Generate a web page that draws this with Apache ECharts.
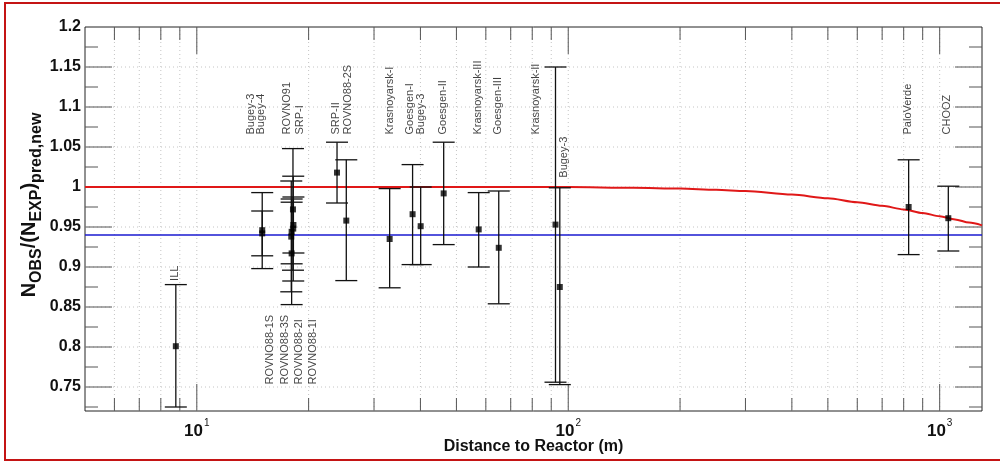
<!DOCTYPE html>
<html>
<head>
<meta charset="utf-8">
<script src="https://cdn.jsdelivr.net/npm/echarts@6/dist/echarts.min.js"></script>
<style>
  html, body { margin: 0; padding: 0; background: #fff; }
  #chart { width: 1000px; height: 462px; }
</style>
</head>
<body>
<div id="chart"></div>
<script>
// ---- measurements: baseline (m), observed/expected ratio and its error range ----
const experiment = ['ILL', 'Bugey-4', 'Bugey-3', 'ROVNO91', 'SRP-I', 'ROVNO88-1S', 'ROVNO88-3S',
  'ROVNO88-2I', 'ROVNO88-1I', 'SRP-II', 'ROVNO88-2S', 'Krasnoyarsk-I', 'Goesgen-I', 'Bugey-3',
  'Goesgen-II', 'Krasnoyarsk-III', 'Goesgen-III', 'Krasnoyarsk-II', 'Bugey-3', 'PaloVerde', 'CHOOZ'];
const distance = [8.78, 15.0, 15.0, 18.0, 18.2, 18.15, 18.18, 17.96, 18.0, 23.85, 25.26, 33.05,
  38.1, 40.06, 46.2, 57.4, 65.0, 92.4, 94.9, 825, 1055];
const ratio = [0.801, 0.942, 0.946, 0.944, 0.9525, 0.972, 0.948, 0.938, 0.917, 1.018, 0.958, 0.935,
  0.966, 0.951, 0.992, 0.947, 0.924, 0.953, 0.875, 0.975, 0.961];
const ratioLow = [0.725, 0.914, 0.898, 0.904, 0.9175, 0.896, 0.8825, 0.869, 0.853, 0.980, 0.883, 0.874,
  0.903, 0.903, 0.928, 0.900, 0.854, 0.756, 0.753, 0.9155, 0.920];
const ratioHigh = [0.878, 0.970, 0.993, 0.985, 0.9875, 1.048, 1.0135, 1.0075, 0.981, 1.056, 1.034, 0.998,
  1.028, 1.000, 1.056, 0.993, 0.995, 1.150, 0.999, 1.034, 1.001];

// ---- expected ratio including three-flavour oscillation (red) and the mean ratio (blue) ----
const curveDistance = [5, 100, 150, 200, 250, 300, 400, 500, 600, 700, 800, 900, 1000,
  1100, 1200, 1300];
const curveRatio = [1.000, 1.000, 0.999, 0.998, 0.9965, 0.995, 0.9905, 0.986, 0.981, 0.9765, 0.972,
  0.9675, 0.9635, 0.9595, 0.9555, 0.952];
const meanRatio = 0.94;

// ---- experiment name tags: text, baseline column (m) and ratio at the lower end of the text ----
const tagText = ['ILL', 'Bugey-3', 'Bugey-4', 'ROVNO91', 'SRP-I', 'ROVNO88-1S', 'ROVNO88-3S',
  'ROVNO88-2I', 'ROVNO88-1I', 'SRP-II', 'ROVNO88-2S', 'Krasnoyarsk-I', 'Goesgen-I', 'Bugey-3',
  'Goesgen-II', 'Krasnoyarsk-III', 'Goesgen-III', 'Krasnoyarsk-II', 'Bugey-3', 'PaloVerde', 'CHOOZ'];
const tagDistance = [8.78, 14.05, 14.96, 17.57, 18.96, 15.81, 17.28, 18.88, 20.6, 23.81, 25.59,
  33.27, 37.5, 40.32, 46.1, 57.3, 64.8, 82.3, 97.4, 823.6, 1049];
const tagRatio = [0.882, 1.065, 1.065, 1.065, 1.065, 0.7525, 0.7525, 0.7525, 0.7525, 1.065, 1.065,
  1.065, 1.065, 1.065, 1.065, 1.065, 1.065, 1.065, 1.011, 1.065, 1.065];

// ---- axes ----
const xRange = [5, 1300];
const yRange = [0.72, 1.2];
const xMajorTicks = [10, 100, 1000];
const xMinorTicks = [6, 7, 8, 9, 20, 30, 40, 50, 60, 70, 80, 90, 200, 300, 400, 500, 600, 700, 800, 900];
const yMajorTicks = [0.75, 0.8, 0.85, 0.9, 0.95, 1, 1.05, 1.1, 1.15];
const yMinorTicks = [0.725, 0.775, 0.825, 0.875, 0.925, 0.975, 1.025, 1.075, 1.125, 1.175];
const yTickLabels = [0.75, 0.8, 0.85, 0.9, 0.95, 1, 1.05, 1.1, 1.15, 1.2];

const BOLD_FONT = "'Liberation Sans', Arial, sans-serif";
const TAG_FONT = "'Liberation Sans', Arial, sans-serif";
const GRID_COLOR = '#c4c4c4';
const TICK_COLOR = '#555';

const chart = echarts.init(document.getElementById('chart'), null, { renderer: 'canvas' });

// vertical grid lines plus inward ticks on the bottom and top edges
function renderXTicks(params, api) {
  const v = api.value(0);
  const major = api.value(1) === 1;
  const bottom = api.coord([v, yRange[0]]);
  const top = api.coord([v, yRange[1]]);
  const len = major ? 27 : 13;
  return {
    type: 'group',
    children: [
      { type: 'line', shape: { x1: bottom[0], y1: bottom[1], x2: top[0], y2: top[1] },
        style: { stroke: GRID_COLOR, lineWidth: 1, lineDash: [1, 3] } },
      { type: 'line', shape: { x1: bottom[0], y1: bottom[1], x2: bottom[0], y2: bottom[1] - len },
        style: { stroke: TICK_COLOR, lineWidth: 1 } },
      { type: 'line', shape: { x1: top[0], y1: top[1], x2: top[0], y2: top[1] + len },
        style: { stroke: TICK_COLOR, lineWidth: 1 } }
    ]
  };
}

// horizontal grid lines plus inward ticks on the left and right edges
function renderYTicks(params, api) {
  const v = api.value(1);
  const major = api.value(2) === 1;
  const left = api.coord([xRange[0], v]);
  const right = api.coord([xRange[1], v]);
  const len = major ? 27 : 13;
  const children = [
    { type: 'line', shape: { x1: left[0], y1: left[1], x2: left[0] + len, y2: left[1] },
      style: { stroke: TICK_COLOR, lineWidth: 1 } },
    { type: 'line', shape: { x1: right[0], y1: right[1], x2: right[0] - len, y2: right[1] },
      style: { stroke: TICK_COLOR, lineWidth: 1 } }
  ];
  if (major) {
    children.unshift({ type: 'line', shape: { x1: left[0], y1: left[1], x2: right[0], y2: right[1] },
      style: { stroke: GRID_COLOR, lineWidth: 1, lineDash: [1, 3] } });
  }
  return { type: 'group', children };
}

// vertical error bar with caps
function renderErrorBar(params, api) {
  const x = api.value(0);
  const lo = api.coord([x, api.value(1)]);
  const hi = api.coord([x, api.value(2)]);
  const half = 11;
  const style = { stroke: '#111', lineWidth: 1.3 };
  return {
    type: 'group',
    children: [
      { type: 'line', shape: { x1: lo[0], y1: lo[1], x2: hi[0], y2: hi[1] }, style },
      { type: 'line', shape: { x1: lo[0] - half, y1: lo[1], x2: lo[0] + half, y2: lo[1] }, style },
      { type: 'line', shape: { x1: hi[0] - half, y1: hi[1], x2: hi[0] + half, y2: hi[1] }, style }
    ]
  };
}

const xTickData = xMinorTicks.map(v => [v, 0, yRange[0]]).concat(xMajorTicks.map(v => [v, 1, yRange[0]]));
const yTickData = yMinorTicks.map(v => [xRange[0], v, 0]).concat(yMajorTicks.map(v => [xRange[0], v, 1]));

const option = {
  animation: false,
  backgroundColor: '#fff',
  grid: {
    left: 85, top: 27, width: 897, height: 384,
    show: true, borderColor: '#222', borderWidth: 1, backgroundColor: 'transparent'
  },
  xAxis: {
    type: 'log', logBase: 10, min: xRange[0], max: xRange[1],
    axisLine: { show: false }, axisTick: { show: false }, splitLine: { show: false },
    name: 'Distance to Reactor (m)',
    nameLocation: 'middle', nameGap: 28, nameMoveOverlap: false,
    nameTextStyle: { fontFamily: BOLD_FONT, fontWeight: 'bold', fontSize: 16, color: '#111' },
    axisLabel: {
      customValues: xMajorTicks,
      margin: 7,
      formatter: v => {
        const e = Math.round(Math.log10(v));
        return Math.abs(Math.pow(10, e) - v) < 1e-6 ? '{b|10}{s|' + e + '}' : '';
      },
      rich: {
        b: { fontFamily: BOLD_FONT, fontWeight: 'bold', fontSize: 17, color: '#111', verticalAlign: 'bottom' },
        s: { fontFamily: TAG_FONT, fontSize: 10, color: '#111', verticalAlign: 'top', padding: [0, 0, 12, 1] }
      }
    }
  },
  yAxis: {
    type: 'value', min: yRange[0], max: yRange[1],
    axisLine: { show: false }, axisTick: { show: false }, splitLine: { show: false },
    axisLabel: {
      customValues: yTickLabels,
      margin: 4,
      fontFamily: BOLD_FONT, fontWeight: 'bold', fontSize: 16, color: '#111',
      formatter: v => String(+(+v).toFixed(3))
    },
    name: '{n|N}{sub|OBS}{n|/(N}{sub|EXP}{n|)}{sub|pred,new}',
    nameLocation: 'middle', nameGap: 46, nameRotate: 90, nameMoveOverlap: false,
    nameTextStyle: {
      padding: [0, 0, 0, 28],
      rich: {
        n: { fontFamily: BOLD_FONT, fontWeight: 'bold', fontSize: 20, color: '#111', verticalAlign: 'bottom' },
        sub: { fontFamily: BOLD_FONT, fontWeight: 'bold', fontSize: 16, color: '#111', verticalAlign: 'bottom', padding: [0, 0, -6, 0] }
      }
    }
  },
  graphic: [
    { type: 'rect', shape: { x: 5, y: 3, width: 1020, height: 457 },
      style: { fill: 'none', stroke: '#c41414', lineWidth: 2 }, z: 100 }
  ],
  series: [
    { type: 'custom', name: 'xTicks', renderItem: renderXTicks, data: xTickData,
      encode: { x: 0, y: 2 }, z: 1, silent: true },
    { type: 'custom', name: 'yTicks', renderItem: renderYTicks, data: yTickData,
      encode: { x: 0, y: 1 }, z: 1, silent: true },
    { type: 'line', name: 'mean', data: xRange.map(d => [d, meanRatio]), showSymbol: false,
      lineStyle: { color: '#1a1ad0', width: 1.6 }, z: 3, silent: true },
    { type: 'line', name: 'oscillation', data: curveDistance.map((d, i) => [d, curveRatio[i]]),
      showSymbol: false, smooth: 0.3, smoothMonotone: 'x',
      lineStyle: { color: '#e01818', width: 2 }, z: 3, silent: true },
    { type: 'custom', name: 'errors', renderItem: renderErrorBar,
      data: distance.map((d, i) => [d, ratioLow[i], ratioHigh[i]]),
      encode: { x: 0, y: [1, 2] }, z: 4, silent: true },
    { type: 'scatter', name: 'ratio', data: distance.map((d, i) => [d, ratio[i]]),
      symbol: 'rect', symbolSize: 6, itemStyle: { color: '#000' }, z: 5, silent: true },
    { type: 'scatter', name: 'tags', data: tagDistance.map((d, i) => ({ value: [d, tagRatio[i]], name: tagText[i] })),
      symbolSize: 1, itemStyle: { color: 'rgba(0,0,0,0)' }, z: 6, silent: true,
      label: {
        show: true, position: [0, 0], rotate: 90, align: 'left', verticalAlign: 'middle',
        formatter: p => p.name,
        fontFamily: TAG_FONT, fontSize: 11, color: '#111'
      }
    }
  ]
};

chart.setOption(option);
</script>
</body>
</html>
